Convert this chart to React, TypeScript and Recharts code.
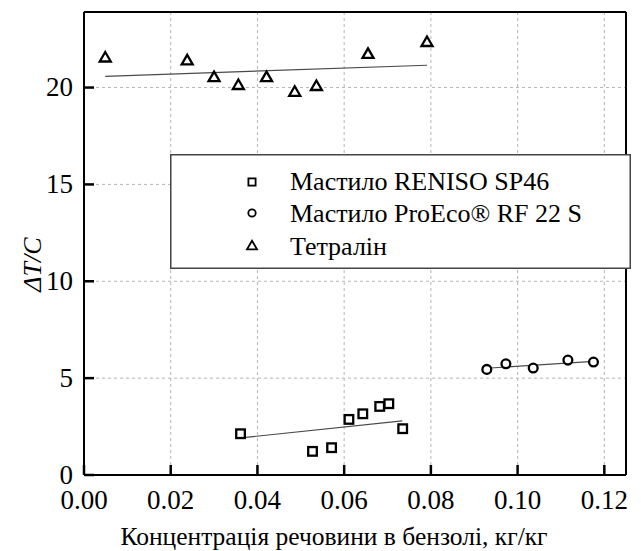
import React from 'react';
import { ScatterChart, Scatter, XAxis, YAxis, CartesianGrid, Legend } from 'recharts';

// ---- data ----
const renisoX = [0.0361, 0.0527, 0.0571, 0.0611, 0.0643, 0.0682, 0.0703, 0.0735];
const renisoY = [2.13, 1.22, 1.41, 2.87, 3.16, 3.54, 3.68, 2.39];

const proecoX = [0.0929, 0.0973, 0.1036, 0.1116, 0.1175];
const proecoY = [5.45, 5.74, 5.52, 5.93, 5.83];

const tetralinX = [0.0049, 0.0238, 0.03, 0.0356, 0.0421, 0.0486, 0.0536, 0.0655, 0.0791];
const tetralinY = [21.59, 21.44, 20.58, 20.17, 20.58, 19.82, 20.12, 21.78, 22.39];

// linear fit lines (end points)
const renisoFitX = [0.0372, 0.0734];
const renisoFitY = [1.94, 2.79];
const proecoFitX = [0.0929, 0.1175];
const proecoFitY = [5.51, 5.87];
const tetralinFitX = [0.0049, 0.0791];
const tetralinFitY = [20.58, 21.15];

const xMajorTicks = [0, 0.02, 0.04, 0.06, 0.08, 0.1, 0.12];
const xMinorTicks = [0.01, 0.03, 0.05, 0.07, 0.09, 0.11];
const yMajorTicks = [0, 5, 10, 15, 20];
const yMinorTicks = [2.5, 7.5, 12.5, 17.5, 22.5];
const xGrid = [0.02, 0.04, 0.06, 0.08, 0.1, 0.12];
const yGrid = [5, 10, 15, 20];
const xDomain = [0, 0.125];
const yDomain = [0, 23.9];

const seriesNames = ['Мастило RENISO SP46', 'Мастило ProEco® RF 22 S', 'Тетралін'];
const xTitle = 'Концентрація речовини в бензолі, кг/кг';
const yTitle = 'ΔT/C';

const FONT = 'Liberation Serif, Tinos, Times New Roman, DejaVu Serif, serif';
const txtProps = (size: number, italic = false) => ({
  fontFamily: FONT,
  fontSize: size,
  fontStyle: italic ? 'italic' : 'normal',
  style: { fontFamily: FONT, fontSize: size, fontStyle: italic ? 'italic' : 'normal' },
  fill: '#000',
});

const toPoints = (xs: number[], ys: number[]) => xs.map((x, i) => ({ x, y: ys[i] }));

// ---- marker shapes ----
const SquareShape = (p: any) => (
  <rect x={p.cx - 4.3} y={p.cy - 4.3} width={8.6} height={8.6} fill="#fff" stroke="#000" strokeWidth={2.3} />
);
const CircleShape = (p: any) => (
  <circle cx={p.cx} cy={p.cy} r={4.4} fill="#fff" stroke="#000" strokeWidth={2.3} />
);
const TriangleShape = (p: any) => {
  const h = 9.5;
  const w = 11;
  const d = `M${p.cx},${p.cy - h / 2} L${p.cx + w / 2},${p.cy + h / 2} L${p.cx - w / 2},${p.cy + h / 2} Z`;
  return <path d={d} fill="#fff" stroke="#000" strokeWidth={2.3} strokeLinejoin="miter" />;
};
const EmptyShape = () => <g />;

// ---- inward ticks: mirrored axes (they take no margin space) ----
const MAJOR = 10;
const MINOR = 6;
const AX = 0.01; // tiny, non-zero axis thickness so that the axis renders
const tickLineStyle = { stroke: '#000', strokeWidth: 2.5 };
const axisLineStyle = { stroke: '#000', strokeWidth: 2 };

// bottom mirrored tick text sits at (axis y - MAJOR); left mirrored at (axis x + MAJOR)
const BottomLabel = (props: any) => {
  const { x, y, payload } = props;
  return (
    <text x={x} y={y + MAJOR + 34} textAnchor="middle" {...txtProps(27)}>
      {Number(payload.value).toFixed(2)}
    </text>
  );
};
const LeftLabel = (props: any) => {
  const { x, y, payload } = props;
  return (
    <text x={x - MAJOR - 11} y={y} dy="0.33em" textAnchor="end" {...txtProps(27)}>
      {String(payload.value)}
    </text>
  );
};

const XTitle = (props: any) => {
  const vb = props.viewBox;
  return (
    <text x={vb.x + vb.width / 2 - 21} y={vb.y + vb.height + 70} textAnchor="middle" {...txtProps(25.5)}>
      {xTitle}
    </text>
  );
};
const YTitle = (props: any) => {
  const vb = props.viewBox;
  const cx = vb.x - 43;
  const cy = vb.y + vb.height / 2 + 21;
  return (
    <text x={cx} y={cy} transform={`rotate(-90, ${cx}, ${cy})`} textAnchor="middle" {...txtProps(26, true)}>
      {yTitle}
    </text>
  );
};

const legendRowBaselines = [36, 68, 101];
const legendRowCenters = [28, 59, 91];

const LegendMarker = ({ i, cx, cy }: { i: number; cx: number; cy: number }) => {
  if (i === 0) return <rect x={cx - 3.6} y={cy - 3.6} width={7.2} height={7.2} fill="#fff" stroke="#000" strokeWidth={1.8} />;
  if (i === 1) return <circle cx={cx} cy={cy} r={3.7} fill="#fff" stroke="#000" strokeWidth={1.8} />;
  return (
    <path d={`M${cx},${cy - 4.3} L${cx + 5},${cy + 4.3} L${cx - 5},${cy + 4.3} Z`} fill="#fff" stroke="#000" strokeWidth={1.8} />
  );
};

const LegendBox = () => (
  <svg width={461} height={115} style={{ display: 'block' }}>
    <rect x={0.75} y={0.75} width={459.5} height={113.5} fill="#fff" stroke="#444" strokeWidth={1.5} />
    {seriesNames.map((name, i) => (
      <g key={name}>
        <LegendMarker i={i} cx={82} cy={legendRowCenters[i]} />
        <text x={120} y={legendRowBaselines[i]} {...txtProps(26)}>
          {name}
        </text>
      </g>
    ))}
  </svg>
);

export default function App() {
  const fitLine = { stroke: '#4a4a4a', strokeWidth: 1.2 };
  const common = { type: 'number' as const, allowDataOverflow: true, interval: 0 as const, tickMargin: 0, mirror: true };
  return (
    <div style={{ position: 'absolute', left: 0, top: 0, background: '#fff', fontFamily: FONT }}>
      <ScatterChart width={641} height={551} margin={{ top: 12, right: 15, bottom: 76, left: 84 }}>
        <CartesianGrid
          horizontalValues={yGrid}
          verticalValues={xGrid}
          stroke="#b5b5b5"
          strokeDasharray="3 3"
          strokeWidth={1}
        />
        {/* bottom: major ticks + labels */}
        <XAxis
          {...common}
          dataKey="x"
          domain={xDomain}
          ticks={xMajorTicks}
          height={AX}
          tickSize={MAJOR}
          tickLine={tickLineStyle}
          tick={BottomLabel}
          axisLine={axisLineStyle}
          label={XTitle}
        />
        {/* bottom: minor ticks */}
        <XAxis
          {...common}
          xAxisId="bminor"
          dataKey="x"
          domain={xDomain}
          ticks={xMinorTicks}
          height={AX}
          tickSize={MINOR}
          tickLine={tickLineStyle}
          tick={false}
          axisLine={false}
        />
        {/* top frame */}
        <XAxis
          {...common}
          xAxisId="top"
          orientation="top"
          dataKey="x"
          domain={xDomain}
          ticks={xMajorTicks}
          height={AX}
          tickSize={MAJOR}
          tickLine={tickLineStyle}
          tick={false}
          axisLine={axisLineStyle}
        />
        <XAxis
          {...common}
          xAxisId="tminor"
          orientation="top"
          dataKey="x"
          domain={xDomain}
          ticks={xMinorTicks}
          height={AX}
          tickSize={MINOR}
          tickLine={tickLineStyle}
          tick={false}
          axisLine={false}
        />
        {/* left: major ticks + labels */}
        <YAxis
          {...common}
          dataKey="y"
          domain={yDomain}
          ticks={yMajorTicks}
          width={AX}
          tickSize={MAJOR}
          tickLine={tickLineStyle}
          tick={LeftLabel}
          axisLine={axisLineStyle}
          label={YTitle}
        />
        <YAxis
          {...common}
          yAxisId="lminor"
          dataKey="y"
          domain={yDomain}
          ticks={yMinorTicks}
          width={AX}
          tickSize={MINOR}
          tickLine={tickLineStyle}
          tick={false}
          axisLine={false}
        />
        {/* right frame */}
        <YAxis
          {...common}
          yAxisId="right"
          orientation="right"
          dataKey="y"
          domain={yDomain}
          ticks={yMajorTicks}
          width={AX}
          tickSize={MAJOR}
          tickLine={tickLineStyle}
          tick={false}
          axisLine={axisLineStyle}
        />
        <YAxis
          {...common}
          yAxisId="rminor"
          orientation="right"
          dataKey="y"
          domain={yDomain}
          ticks={yMinorTicks}
          width={AX}
          tickSize={MINOR}
          tickLine={tickLineStyle}
          tick={false}
          axisLine={false}
        />
        <Scatter data={toPoints(tetralinFitX, tetralinFitY)} line={fitLine} shape={EmptyShape} legendType="none" isAnimationActive={false} />
        <Scatter data={toPoints(renisoFitX, renisoFitY)} line={fitLine} shape={EmptyShape} legendType="none" isAnimationActive={false} />
        <Scatter data={toPoints(proecoFitX, proecoFitY)} line={fitLine} shape={EmptyShape} legendType="none" isAnimationActive={false} />
        <Scatter name={seriesNames[0]} data={toPoints(renisoX, renisoY)} shape={SquareShape} isAnimationActive={false} />
        <Scatter name={seriesNames[1]} data={toPoints(proecoX, proecoY)} shape={CircleShape} isAnimationActive={false} />
        <Scatter name={seriesNames[2]} data={toPoints(tetralinX, tetralinY)} shape={TriangleShape} isAnimationActive={false} />
        <Legend
          layout="vertical"
          align="center"
          verticalAlign="middle"
          content={LegendBox}
          wrapperStyle={{ left: 170, top: 154, width: 461, height: 115 }}
        />
      </ScatterChart>
    </div>
  );
}
